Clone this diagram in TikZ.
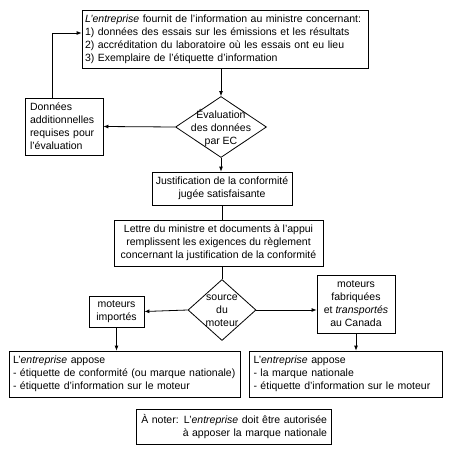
\documentclass[tikz,border=0pt]{standalone}
\usepackage{fontspec}
\setmainfont{Liberation Sans}
\usetikzlibrary{shapes.geometric,arrows.meta}

\begin{document}
\begin{tikzpicture}[x=1pt,y=-1pt,
	txt/.style={font=\fontsize{10.5}{13}\selectfont},
	box/.style={draw,line width=0.8pt,txt,inner sep=0pt},
	choix/.style={draw,line width=0.8pt,diamond,inner sep=0pt},
	arr/.style={line width=0.8pt,-{Latex[length=5pt,width=4pt]}},
	lien/.style={line width=0.8pt}]
	\useasboundingbox (0,0) rectangle (449,452);
	% boites
	\node[box,minimum width=286,minimum height=58,text width=280,align=left] (info) at (225,39)
		{\textit{L’entreprise} fournit de l’information au ministre concernant:\\
		1) données des essais sur les émissions et les résultats\\
		2) accréditation du laboratoire où les essais ont eu lieu\\
		3) Exemplaire de l’étiquette d’information};
	\node[box,minimum width=78,minimum height=57,text width=68,align=left] (extra) at (64,126.5)
		{Données\\ additionnelles\\ requises pour\\ l’évaluation};
	\node[choix,minimum width=91,minimum height=61] (eval) at (221,127) {};
	\node[txt,align=center] (evaltxt) at (221,128) {Évaluation\\ des données\\ par EC};
	\node[box,minimum width=140,minimum height=33,align=center] (justif) at (222,188.5)
		{Justification de la conformité\\ jugée satisfaisante};
	\node[box,minimum width=209,minimum height=46,align=center] (lettre) at (218.5,243)
		{Lettre du ministre et documents à l’appui\\ remplissent les exigences du règlement\\ concernant la justification de la conformité};
	\node[choix,minimum width=68,minimum height=61] (source) at (222,310) {};
	\node[txt,align=center] (sourcetxt) at (222,311) {source\\ du\\ moteur};
	\node[box,minimum width=55,minimum height=31,align=center] (imports) at (116.5,311.5)
		{moteurs\\ importés};
	\node[box,minimum width=78,minimum height=58,align=center] (canada) at (356,304)
		{moteurs\\ fabriquées\\ et \textit{transportés}\\ au Canada};
	\node[box,minimum width=231,minimum height=46,text width=223,align=left] (apposeL) at (124.5,374)
		{L’\textit{entreprise} appose\\
		- étiquette de conformité (ou marque nationale)\\
		- étiquette d’information sur le moteur};
	\node[box,minimum width=193,minimum height=46,text width=184,align=left] (apposeR) at (345.5,374)
		{L’\textit{entreprise} appose\\
		- la marque nationale\\
		- étiquette d’information sur le moteur};
	\node[box,minimum width=195,minimum height=35,text width=187,align=right] (note) at (233.5,426.5)
		{À noter: L’\textit{entreprise} doit être autorisée\\ à apposer la marque nationale};
	% liens
	\draw[arr] (info.south -| eval.north) -- (eval.north);
	\draw[arr] (eval.west) -- (extra.east);
	\draw[arr] ([xshift=-12pt]extra.north) |- ([yshift=6pt]info.west);
	\draw[arr] (eval.south) -- (justif.north -| eval.south);
	\draw[lien] (justif.south) -- (lettre.north -| justif.south);
	\draw[lien] (lettre.south -| source.north) -- (source.north);
	\draw[arr] (source.west) -- (imports.east);
	\draw[arr] (source.east) -- (canada.west |- source.east);
	\draw[arr] (imports.south) -- (apposeL.north -| imports.south);
	\draw[arr] (canada.south) -- (apposeR.north -| canada.south);
\end{tikzpicture}
\end{document}
